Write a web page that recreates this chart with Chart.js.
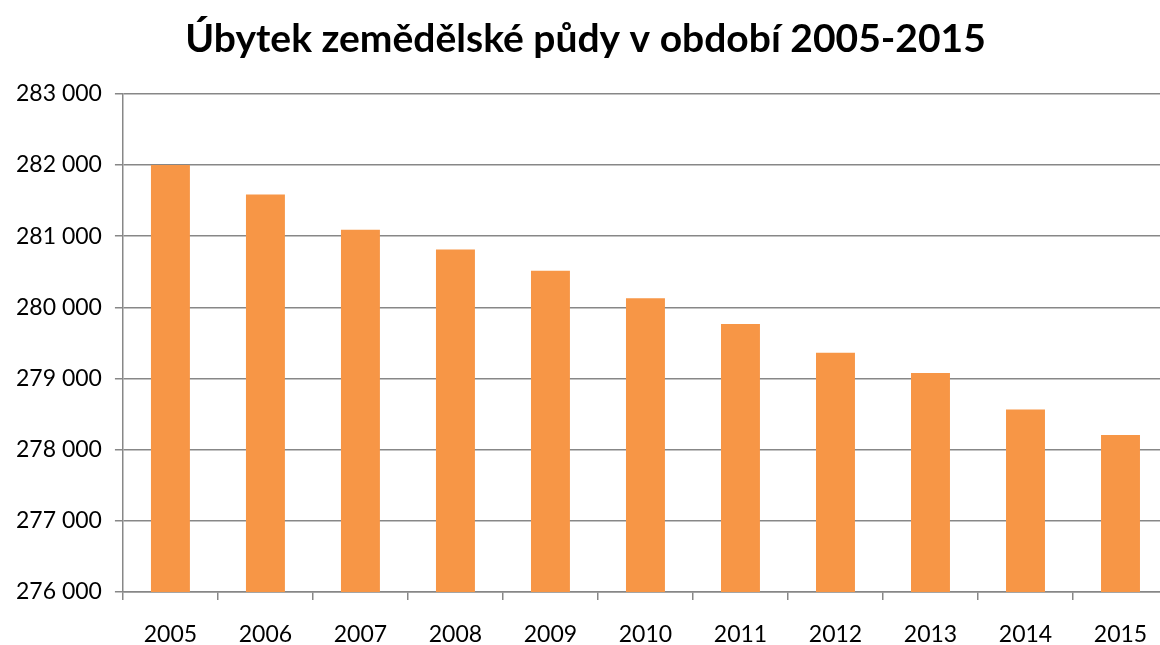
<!DOCTYPE html>
<html>
<head>
<meta charset="utf-8">
<script src="https://cdn.jsdelivr.net/npm/chart.js@4"></script>
<style>
  html, body { margin: 0; padding: 0; background: #fff; overflow: hidden; }
  .wrap { position: relative; width: 1180px; height: 645px; }
</style>
</head>
<body>
<div class="wrap"><canvas id="chart" width="1180" height="645"></canvas></div>
<script>
// data
const years = ["2005", "2006", "2007", "2008", "2009", "2010", "2011", "2012", "2013", "2014", "2015"];
const area = [282000, 281585, 281089, 280812, 280512, 280128, 279767, 279360, 279078, 278563, 278207];
const yMin = 276000;
const yMax = 283000;
const yStep = 1000;

const titleText = "Úbytek zemědělské půdy v období 2005-2015";
const axisGray = "#878787";

// "283000" -> "283 000"
function fmt(v){
  return String(v).replace(/\B(?=(\d{3})+(?!\d))/g, " ");
}

new Chart(document.getElementById("chart"), {
  type: "bar",
  data: {
    labels: years,
    datasets: [{
      data: area,
      backgroundColor: "#F79646",
      borderWidth: 0,
      barPercentage: 0.41,
      categoryPercentage: 1,
    }],
  },
  options: {
    responsive: false,
    animation: false,
    layout: { padding: { left: 3, right: 12, top: 0, bottom: 0 } },
    plugins: {
      legend: { display: false },
      tooltip: { enabled: false },
      title: {
        display: true,
        text: titleText,
        color: "#000",
        font: { family: "Lato", size: 39, weight: "bold" },
        padding: { top: 16, bottom: 31 },
      },
    },
    scales: {
      x: {
        afterFit: scale => { scale.height = 53; },
        grid: { drawOnChartArea: false, drawTicks: true, tickLength: 8, color: axisGray, lineWidth: 1.5 },
        border: { color: axisGray, width: 1.5 },
        ticks: { color: "#000", font: { family: "Lato", size: 23 }, padding: 21, maxRotation: 0 },
      },
      y: {
        min: yMin,
        max: yMax,
        grid: { color: axisGray, lineWidth: 1.5, tickLength: 8 },
        border: { color: axisGray, width: 1.5 },
        ticks: {
          stepSize: yStep,
          color: "#000",
          font: { family: "Lato", size: 23 },
          padding: 13,
          callback: v => fmt(v),
        },
      },
    },
  },
});
</script>
</body>
</html>
